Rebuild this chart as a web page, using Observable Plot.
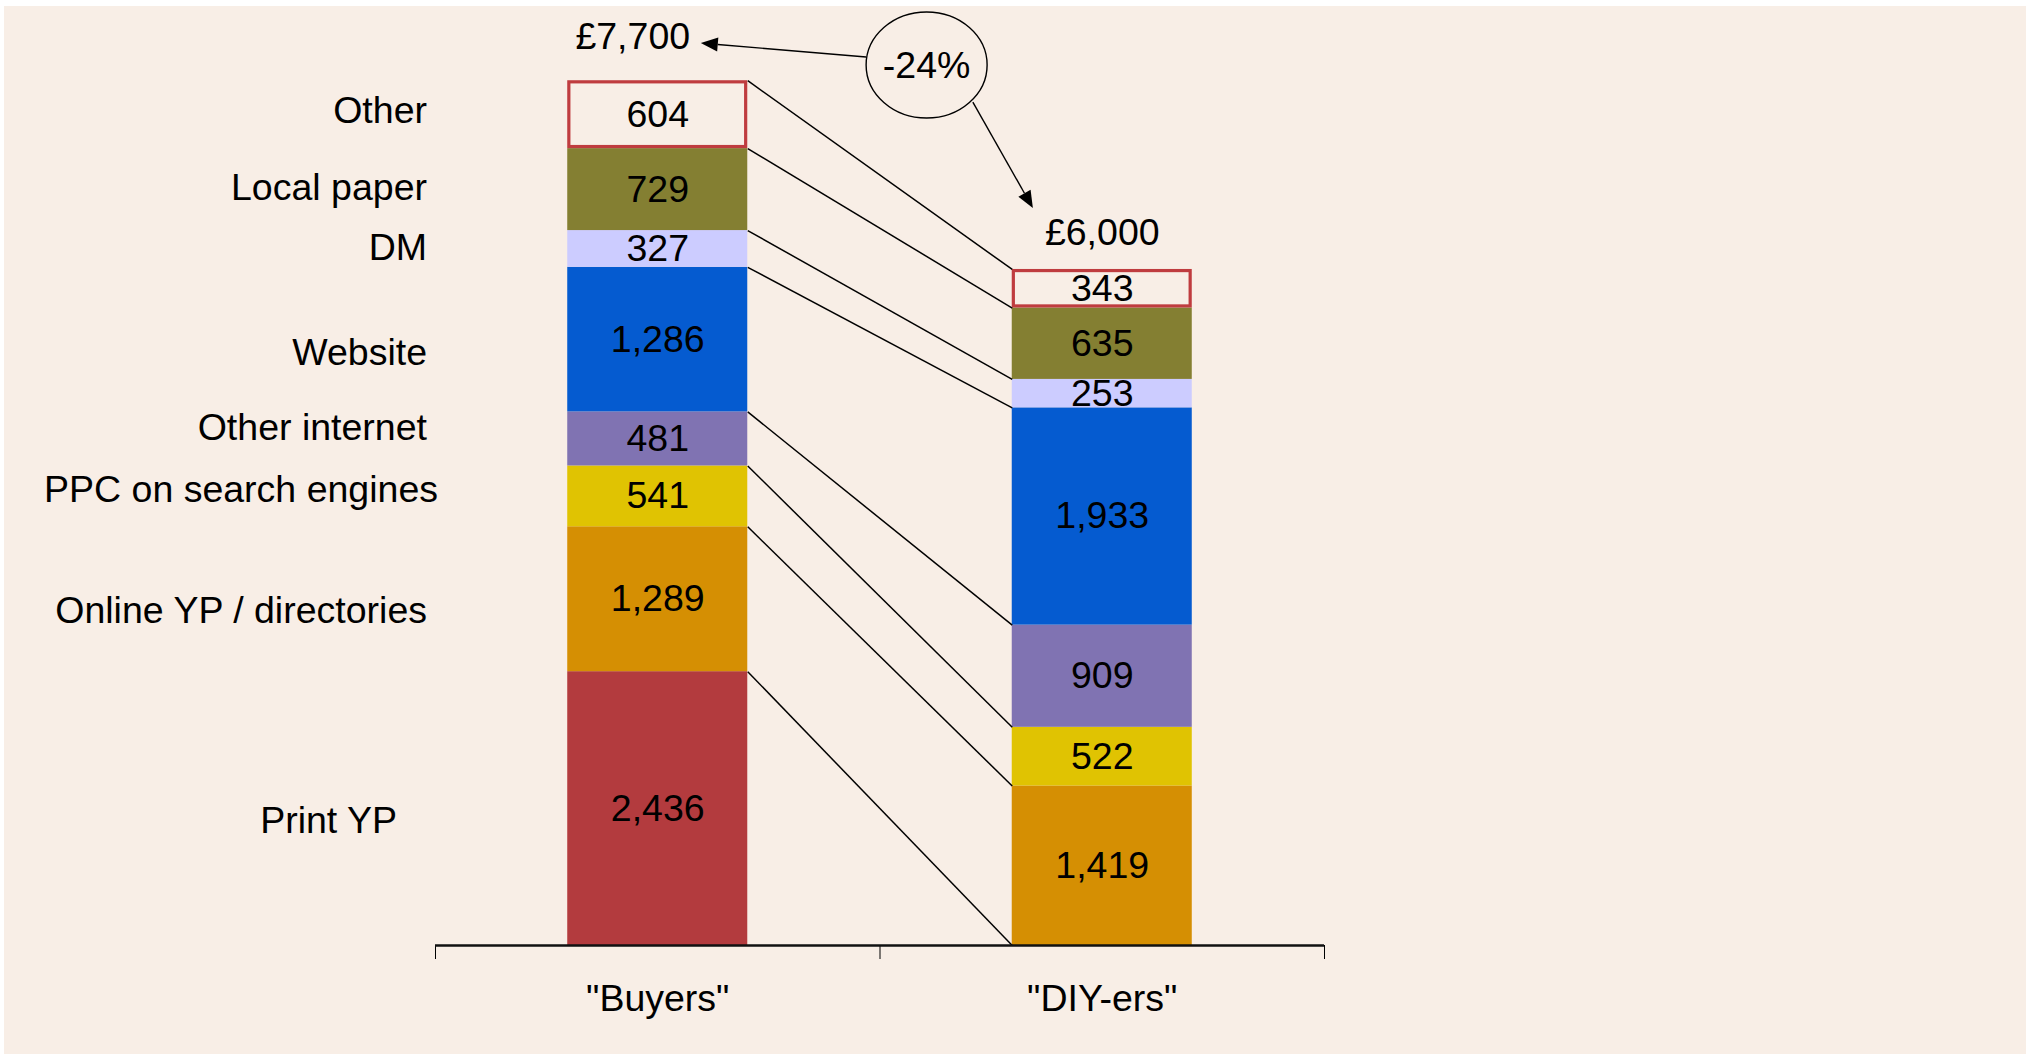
<!DOCTYPE html>
<html>
<head>
<meta charset="utf-8">
<script src="https://cdn.jsdelivr.net/npm/d3@7"></script>
<script src="https://cdn.jsdelivr.net/npm/@observablehq/plot@0.6"></script>
<style>
  html, body { margin: 0; padding: 0; background: #ffffff; }
  #chart { position: absolute; left: 4px; top: 6px; }
</style>
</head>
<body>
<div id="chart"></div>
<script>
// Advertising spend by channel (£ per business), stacked from the bottom up
const channels = [
  "Print YP",
  "Online YP / directories",
  "PPC on search engines",
  "Other internet",
  "Website",
  "DM",
  "Local paper",
  "Other"
];
const groups = ["\"Buyers\"", "\"DIY-ers\""];
const buyersSpend = [2436, 1289, 541, 481, 1286, 327, 729, 604];
const diyersSpend = [0, 1419, 522, 909, 1933, 253, 635, 343];
const totalLabels = ["£7,700", "£6,000"];
const changeLabel = "-24%";

const channelColors = ["#b33b3e", "#d58f03", "#e0c302", "#8073b2", "#055bd0", "#ccccff", "#847f32", "#f8eee6"];
const bg = "#f8eee6";
const otherStroke = "#bf3c3f";

// Hand-placed nudges (px) for the channel names down the left side
const labelNudge = {
  "Print YP": [-30, 13],
  "Online YP / directories": [0, 12],
  "PPC on search engines": [11, -6],
  "Other internet": [0, -10],
  "Website": [0, 14],
  "DM": [0, 0],
  "Local paper": [0, -1],
  "Other": [0, -3]
};

// Callout bubble and its two arrows, in data units (x: 0..2 across the two groups, y: £)
const bubble = {x: 1.106, y: 7828};
const calloutArrows = [
  {x1: 0.970, y1: 7900, x2: 0.598, y2: 8024},
  {x1: 1.210, y1: 7499, x2: 1.345, y2: 6556}
];

const barHalf = 0.2025; // half bar width, as a fraction of each group's slot
const series = [buyersSpend, diyersSpend];

// Manual stacking so the connector lines can join matching segment tops
const rows = [];
series.forEach((vals, gi) => {
  let acc = 0;
  vals.forEach((v, si) => {
    rows.push({gi, si, channel: channels[si], value: v, y1: acc, y2: acc + v, xc: gi + 0.5});
    acc += v;
  });
});
const totals = series.map(vals => d3.sum(vals));
const fmt = d3.format(",");

const segmentTop = (gi, si) => rows.find(r => r.gi === gi && r.si === si).y2;
const connectors = channels.map((c, si) => ({si, y1: segmentTop(0, si), y2: segmentTop(1, si)}));

const filled = rows.filter(r => r.value > 0 && r.channel !== "Other");
const others = rows.filter(r => r.value > 0 && r.channel === "Other");
const labelled = rows.filter(r => r.value > 0);
const buyersRows = rows.filter(r => r.gi === 0);

// Ellipse callout with filled arrowheads, positioned through the plot's scales
function callout(index, scales) {
  const {x, y} = scales;
  const g = d3.create("svg:g");
  const cx = x(bubble.x), cy = y(bubble.y);
  for (const a of calloutArrows) {
    const px1 = x(a.x1), py1 = y(a.y1), px2 = x(a.x2), py2 = y(a.y2);
    const dx = px2 - px1, dy = py2 - py1, len = Math.hypot(dx, dy);
    const ux = dx / len, uy = dy / len, L = 17, W = 7;
    const bx = px2 - ux * L, by = py2 - uy * L;
    g.append("line")
      .attr("x1", px1).attr("y1", py1).attr("x2", bx).attr("y2", by)
      .attr("stroke", "#000").attr("stroke-width", 1.4);
    g.append("path")
      .attr("d", `M${px2},${py2}L${bx - uy * W},${by + ux * W}L${bx + uy * W},${by - ux * W}Z`)
      .attr("fill", "#000");
  }
  g.append("ellipse")
    .attr("cx", cx).attr("cy", cy).attr("rx", 60.5).attr("ry", 53)
    .attr("fill", "none").attr("stroke", "#000").attr("stroke-width", 1.4);
  g.append("text")
    .attr("x", cx).attr("y", cy).attr("dy", "0.35em")
    .attr("text-anchor", "middle").attr("fill", "#000")
    .text(changeLabel);
  return g.node();
}

// Channel names, each shifted by its nudge
function channelNames(index, scales) {
  const {x, y} = scales;
  const g = d3.create("svg:g").attr("text-anchor", "end").attr("fill", "#000");
  for (const r of buyersRows) {
    const [nx, ny] = labelNudge[r.channel] || [0, 0];
    g.append("text")
      .attr("x", x(0) - 8 + nx)
      .attr("y", y((r.y1 + r.y2) / 2) + ny)
      .attr("dy", "0.32em")
      .text(r.channel);
  }
  return g.node();
}

const chart = Plot.plot({
  width: 2022,
  height: 1048,
  marginLeft: 431,
  marginRight: 702,
  marginTop: 6,
  marginBottom: 109,
  style: {
    background: bg,
    fontFamily: "'Liberation Sans', Arial, sans-serif",
    fontSize: "37.5px",
    color: "#000",
    overflow: "visible"
  },
  x: {domain: [0, 2], ticks: [0, 1, 2], tickSize: 14, tickFormat: () => "", label: null},
  y: {domain: [0, 8300], axis: null},
  marks: [
    Plot.rect(filled, {
      x1: d => d.xc - barHalf, x2: d => d.xc + barHalf,
      y1: "y1", y2: "y2",
      fill: d => channelColors[d.si]
    }),
    Plot.rect(others, {
      x1: d => d.xc - barHalf, x2: d => d.xc + barHalf,
      y1: "y1", y2: "y2",
      fill: bg, stroke: otherStroke, strokeWidth: 3.2, inset: 1.6
    }),
    Plot.link(connectors, {
      x1: 0.5 + barHalf, y1: "y1",
      x2: 1.5 - barHalf, y2: "y2",
      stroke: "#000", strokeWidth: 1.5
    }),
    Plot.ruleY([0], {stroke: "#111", strokeWidth: 2.5}),
    Plot.text(labelled, {
      x: "xc", y: d => (d.y1 + d.y2) / 2,
      text: d => fmt(d.value), fill: "#000"
    }),
    channelNames,
    Plot.text(groups, {
      x: (d, i) => i + 0.5, y: 0, dy: 53,
      text: d => d, fill: "#000"
    }),
    // Total for the first group sits up and to the left, clear of the arrow
    Plot.text([totals[0]], {
      x: 0.5, y: d => d, dx: -25, dy: -44,
      text: () => totalLabels[0], fill: "#000"
    }),
    Plot.text([totals[1]], {
      x: 1.5, y: d => d, dy: -36,
      text: () => totalLabels[1], fill: "#000"
    }),
    callout
  ]
});

document.getElementById("chart").append(chart);
</script>
</body>
</html>
